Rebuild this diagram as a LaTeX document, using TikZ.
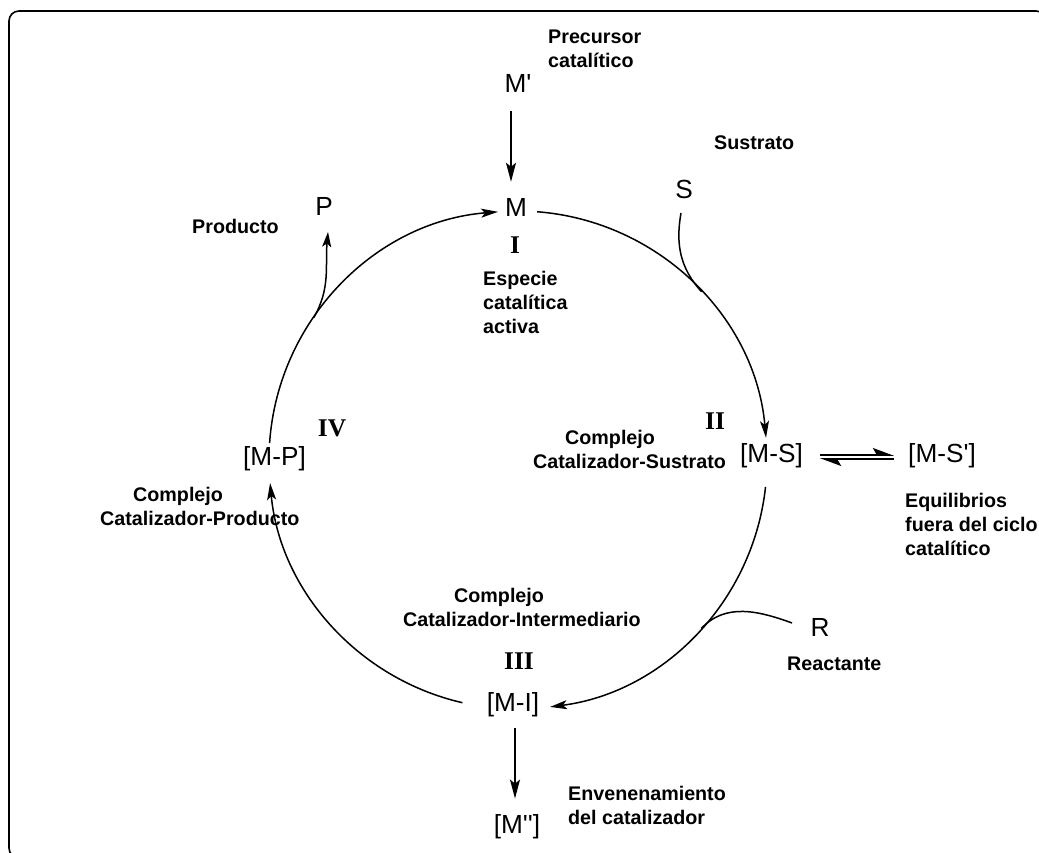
\documentclass[tikz,border=0pt]{standalone}
\usepackage{fontspec}
\setmainfont{Liberation Sans}
\newfontfamily\romanfont{Liberation Serif}
\usetikzlibrary{arrows.meta,calc}
\tikzset{
 chem/.style={inner sep=0pt, font=\fontsize{26.2}{30}\selectfont},
 lbl/.style={inner sep=0pt, anchor=north west, align=left, font=\bfseries\fontsize{19.7}{24}\selectfont},
 rom/.style={inner sep=0pt, font=\romanfont\bfseries\fontsize{25.5}{30}\selectfont},
 arr/.style={line width=1.7pt, -{Stealth[length=19pt,width=10pt,inset=4pt]}},
 arcarr/.style={line width=1.5pt, -{Stealth[length=17pt,width=9pt,inset=4pt]}},
 branch/.style={line width=1.5pt},
 parr/.style={line width=1.5pt, -{Stealth[length=15pt,width=9pt,inset=3.5pt]}},
 harp/.style={line width=1.6pt, -{Stealth[harpoon,length=19pt,width=14pt,inset=4pt]}},
}
\begin{document}
\begin{tikzpicture}[x=1pt,y=1pt]
\useasboundingbox (0,0) rectangle (1039,853);
\draw[line width=1.6pt, rounded corners=10pt] (9,842) rectangle (1046,-5);

% chemical species
\node[chem] (mp)  at (518,769) {M\textquotesingle};
\node[chem] (m)   at (516,646) {M};
\node[chem] (s)   at (684,664) {S};
\node[chem] (p)   at (324,647) {P};
\node[chem] (mpp2) at (274.5,394) {[M-P]};
\node[chem] (ms)  at (771.5,397) {[M-S]};
\node[chem] (msp) at (942,397) {[M-S\textquotesingle]};
\node[chem] (r)   at (820,226) {R};
\node[chem] (mi)  at (513,148) {[M-I]};
\node[chem] (mpp) at (517,26) {[M\textquotesingle\textquotesingle]};

% roman numerals
\node[rom] (n1) at (515,608) {I};
\node[rom] (n2) at (715,432) {II};
\node[rom] (n3) at (519,192) {III};
\node[rom] (n4) at (332,425) {IV};

% labels
\node[lbl] (lprec) at (548,823) {Precursor\\catalítico};
\node[lbl] (lsus)  at (714,717) {Sustrato};
\node[lbl] (lprod) at (192,634) {Producto};
\node[lbl] (lesp)  at (483,582) {Especie\\catalítica\\activa};
\node[lbl] (lcs)   at (533,423) {\hspace*{32pt}Complejo\\Catalizador-Sustrato};
\node[lbl] (leq)   at (905,360) {Equilibrios\\fuera del ciclo\\catalítico};
\node[lbl] (lci)   at (403,265) {\hspace*{51pt}Complejo\\Catalizador-Intermediario};
\node[lbl] (lreac) at (787,196) {Reactante};
\node[lbl] (lenv)  at (568,67) {Envenenamiento\\del catalizador};
\node[lbl] (lcp)   at (100,366) {\hspace*{33pt}Complejo\\Catalizador-Producto};

% catalytic cycle
\coordinate (cc) at (518,393);
\coordinate (a1) at ($(cc)+(85.6:249)$);
\coordinate (a2) at ($(cc)+(-6.2:249)$);
\coordinate (a3) at ($(cc)+(-102.9:249)$);
\coordinate (a4) at ($(cc)+(176.1:249)$);
\draw[arcarr] (a1) arc[start angle=85.6, end angle=5.1, radius=249];
\draw[arcarr] (a2) arc[start angle=-6.2, end angle=-82.6, radius=249];
\draw[arcarr] (a3) arc[start angle=-102.9, end angle=-174.7, radius=249];
\draw[arcarr] (a4) arc[start angle=176.1, end angle=94.6, radius=249];

% precursor and poisoning arrows
\draw[arr, shorten <=18pt, shorten >=16pt] ([xshift=-7pt]mp.south) -- ([xshift=-7pt]mp.south |- m.north);
\draw[arr, shorten <=11pt, shorten >=16pt] ([xshift=2pt]mi.south) -- ([xshift=2pt]mi.south |- mpp.north);

% branches
\coordinate (sbeg) at (681,640);
\coordinate (sj) at ($(cc)+(42.5:249)$);
\draw[branch] (sbeg) to[out=-100,in=132.5] (sj);
\coordinate (pj) at ($(cc)+(145.1:249)$);
\coordinate (pend) at (328,621);
\draw[parr] (pj) to[out=60,in=-95] (pend);
\coordinate (rbeg) at (792,230);
\coordinate (rj) at ($(cc)+(-42.6:249)$);
\draw[branch] (rbeg) to[out=160,in=47] (rj);

% equilibrium
\draw[harp] ([yshift=1pt,xshift=17pt]ms.east) -- ([yshift=1pt,xshift=-14pt]msp.west);
\draw[harp] ([yshift=-3pt,xshift=-14pt]msp.west) -- ([yshift=-3pt,xshift=17pt]ms.east);
\end{tikzpicture}
\end{document}
